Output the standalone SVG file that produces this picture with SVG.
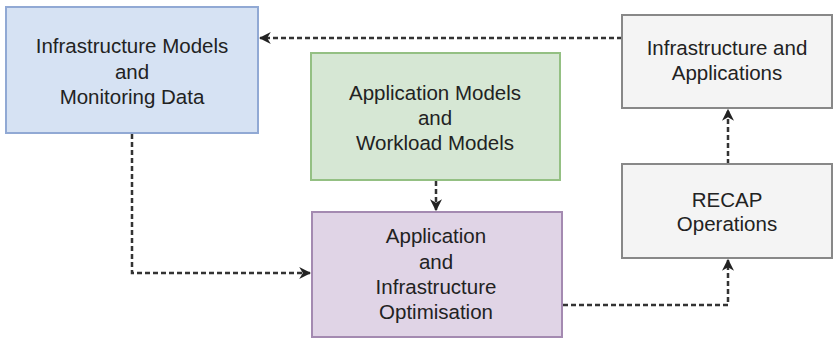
<svg xmlns="http://www.w3.org/2000/svg" width="833" height="338" viewBox="0 0 833 338">
<defs>
<marker id="ah" viewBox="0 0 10 10" refX="9" refY="5" markerWidth="12" markerHeight="12" markerUnits="userSpaceOnUse" orient="auto">
<path d="M0,0 L10,5 L0,10 L3,5 Z" fill="#222"/>
</marker>
<style>
.t{font-family:"Liberation Sans",Arial,sans-serif;font-size:20.5px;fill:#222;text-anchor:middle}
.c{fill:none;stroke:#333;stroke-width:2.5;stroke-dasharray:5 3}
.box{stroke-width:2}
</style>
</defs>
<rect width="833" height="338" fill="#fff"/>
<g id="connectors">
<path class="c" d="M622,38 H260" marker-end="url(#ah)"/>
<path class="c" d="M132,134 V273 H310" marker-end="url(#ah)"/>
<path class="c" d="M436,181 V210" marker-end="url(#ah)"/>
<path class="c" d="M563,305 H728 V260" marker-end="url(#ah)"/>
<path class="c" d="M728,164 V110" marker-end="url(#ah)"/>
</g>
<g id="infra-models">
<rect class="box" x="6" y="7" width="252" height="126" fill="#d6e2f3" stroke="#91a9d4"/>
<text class="t" x="132" y="53">Infrastructure Models</text>
<text class="t" x="132" y="79">and</text>
<text class="t" x="132" y="104">Monitoring Data</text>
</g>
<g id="app-models">
<rect class="box" x="311" y="53" width="249" height="127" fill="#d6e7d4" stroke="#94c083"/>
<text class="t" x="435" y="100">Application Models</text>
<text class="t" x="435" y="125">and</text>
<text class="t" x="435" y="150">Workload Models</text>
</g>
<g id="optimisation">
<rect class="box" x="312" y="212" width="250" height="125" fill="#e0d4e6" stroke="#a48ab1"/>
<text class="t" x="436" y="243">Application</text>
<text class="t" x="436" y="269">and</text>
<text class="t" x="436" y="294">Infrastructure</text>
<text class="t" x="436" y="319">Optimisation</text>
</g>
<g id="infra-apps">
<rect class="box" x="622" y="15" width="210" height="93" fill="#f4f4f4" stroke="#888"/>
<text class="t" x="727" y="55">Infrastructure and</text>
<text class="t" x="727" y="80">Applications</text>
</g>
<g id="recap-ops">
<rect class="box" x="622" y="164" width="210" height="94" fill="#f4f4f4" stroke="#888"/>
<text class="t" x="727" y="207">RECAP</text>
<text class="t" x="727" y="231">Operations</text>
</g>
</svg>
